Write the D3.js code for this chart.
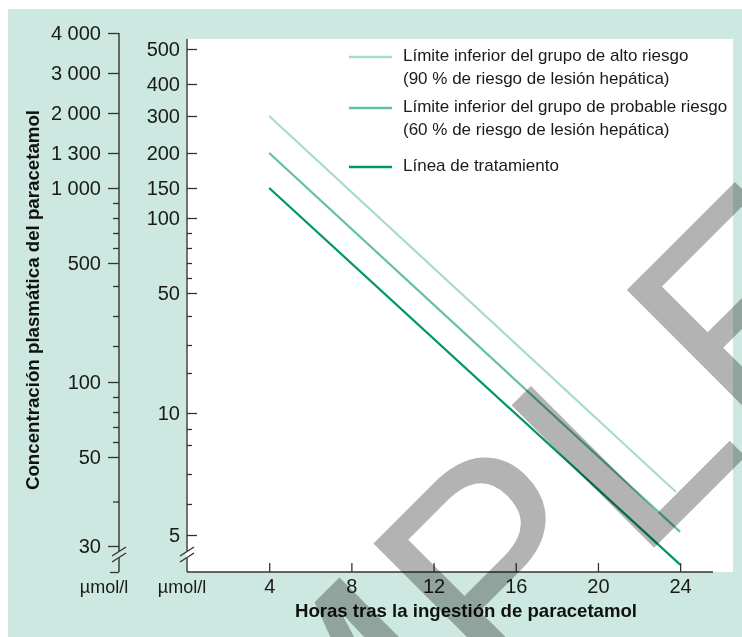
<!DOCTYPE html>
<html>
<head>
<meta charset="utf-8">
<script src="https://cdn.jsdelivr.net/npm/d3@7"></script>
<style>
  body { margin: 0; background: #fff; }
  svg { display: block; font-family: "Liberation Sans", Arial, sans-serif; }
  .axis text { font-size: 20px; fill: #1a1a1a; font-family: "Liberation Sans", Arial, sans-serif; }
  .axis line { stroke: #333; stroke-width: 1.3; }
  .axis path { display: none; }
</style>
</head>
<body>
<svg width="742" height="637"></svg>
<script>
// hours after ingestion, concentration in mg/l (inner axis) and µmol/l (outer axis)
const hourTicks = [4, 8, 12, 16, 20, 24];
const mgTicks = [500, 400, 300, 200, 150, 100, 50, 10, 5];
const mgMinor = [90, 80, 70, 60, 40, 30, 20, 9, 8, 7, 6];
const umolTicks = [4000, 3000, 2000, 1300, 1000, 500, 100, 50, 30];
const umolMinor = [900, 800, 700, 600, 400, 300, 200, 90, 80, 70, 60, 40];

const seriesLabels = [
  ["Límite inferior del grupo de alto riesgo", "(90 % de riesgo de lesión hepática)"],
  ["Límite inferior del grupo de probable riesgo", "(60 % de riesgo de lesión hepática)"],
  ["Línea de tratamiento"]
];
const seriesHours = [[4, 23.8], [4, 24], [4, 24]];
const seriesMg = [[300, 6.4], [200, 5.1], [150, 4.2]];
const seriesColors = ["#a9dcc8", "#63c1a0", "#00956a"];

// the printed axes are spaced by hand, so both y scales are piecewise
const mgStops = [500, 400, 300, 200, 150, 100, 50, 40, 30, 20, 10, 9, 8, 7, 6, 5, 4];
const mgStopY = [49, 84, 116, 153, 188, 218, 293, 316, 345, 373, 413, 429, 445, 474, 504, 535, 572];
const umolStops = [4000, 3000, 2000, 1300, 1000, 500, 400, 300, 200, 100, 50, 30, 20];
const umolStopY = [33, 73, 113, 153, 188, 263, 286, 316, 346, 382, 457, 546, 572];

const svg = d3.select("svg");
const outerX = 119, innerX = 187, baseY = 572;

const x = d3.scaleLinear().domain([0, 25.6]).range([innerX, 713]);
const yMg = d3.scaleLinear().domain(mgStops).range(mgStopY);
const yUmol = d3.scaleLinear().domain(umolStops).range(umolStopY);

const fmt = d3.formatLocale({ decimal: ",", thousands: " ", grouping: [3], currency: ["", ""] }).format(",");

// backgrounds
svg.append("rect").attr("x", 8).attr("y", 9).attr("width", 734).attr("height", 628).attr("fill", "#cde8e0");
svg.append("rect").attr("x", 186).attr("y", 39).attr("width", 547).attr("height", baseY - 39).attr("fill", "#fff");

// outer axis (µmol/l)
const gOut = svg.append("g").attr("class", "axis").attr("transform", `translate(${outerX},0)`);
gOut.call(d3.axisLeft(yUmol).tickValues(umolTicks).tickSize(11).tickPadding(7).tickFormat(fmt));
gOut.append("g").call(d3.axisLeft(yUmol).tickValues(umolMinor).tickSize(6).tickFormat(""));
gOut.append("g").call(d3.axisLeft(yUmol).tickValues([20]).tickSize(9).tickFormat(""));

// inner axis (ticks into the plot)
const gIn = svg.append("g").attr("class", "axis").attr("transform", `translate(${innerX},0)`);
gIn.call(d3.axisLeft(yMg).tickValues(mgTicks).tickSizeInner(-10).tickSizeOuter(0).tickPadding(7));
gIn.append("g").call(d3.axisLeft(yMg).tickValues(mgMinor).tickSizeInner(-5).tickSizeOuter(0).tickFormat(""));

// axis spines with the break marks
function spine(xp, top) {
  const g = svg.append("g").attr("stroke", "#333").attr("stroke-width", 1.4).attr("fill", "none");
  g.append("line").attr("x1", xp).attr("x2", xp).attr("y1", top).attr("y2", 551);
  g.append("line").attr("x1", xp).attr("x2", xp).attr("y1", 558).attr("y2", baseY);
  [552, 558].forEach(b => {
    g.append("line").attr("x1", xp - 7).attr("y1", b + 4).attr("x2", xp + 7).attr("y2", b - 5);
  });
}
spine(outerX, 33);
spine(innerX, 39);

// x axis
const gX = svg.append("g").attr("class", "axis").attr("transform", `translate(0,${baseY})`);
gX.call(d3.axisBottom(x).tickValues(hourTicks).tickSizeInner(-9).tickSizeOuter(0).tickPadding(7));
gX.append("line").attr("x1", innerX).attr("x2", 713).attr("stroke", "#333").attr("stroke-width", 1.4);

// unit labels
svg.selectAll(".unit").data([outerX - 15, innerX - 5]).enter().append("text")
  .attr("x", d => d).attr("y", 593).attr("text-anchor", "middle")
  .attr("font-size", 18).attr("fill", "#1a1a1a").text("µmol/l");

// axis titles
svg.append("text").attr("x", 466).attr("y", 617).attr("text-anchor", "middle")
  .attr("font-size", 18.6).attr("font-weight", "bold").attr("fill", "#111")
  .text("Horas tras la ingestión de paracetamol");
svg.append("text").attr("transform", "translate(39,300) rotate(-90)").attr("text-anchor", "middle")
  .attr("font-size", 18.7).attr("font-weight", "bold").attr("fill", "#111")
  .text("Concentración plasmática del paracetamol");

// nomogram lines
const line = d3.line().x(d => x(d[0])).y(d => yMg(d[1]));
seriesMg.forEach((vals, i) => {
  const pts = vals.map((v, j) => [seriesHours[i][j], v]);
  svg.append("path").attr("d", line(pts)).attr("fill", "none")
    .attr("stroke", seriesColors[i]).attr("stroke-width", 2.2);
});

// legend
const legendTop = [57, 108, 167];
const leg = svg.append("g").attr("font-size", 17).attr("fill", "#1a1a1a");
seriesLabels.forEach((rows, i) => {
  leg.append("line").attr("x1", 349).attr("x2", 392)
    .attr("y1", legendTop[i]).attr("y2", legendTop[i])
    .attr("stroke", seriesColors[i]).attr("stroke-width", 2.6);
  rows.forEach((r, k) => {
    leg.append("text").attr("x", 403).attr("y", legendTop[i] + 4 + k * 23).text(r);
  });
});

// watermark
svg.append("text")
  .attr("transform", "translate(50,1152) rotate(-45)")
  .attr("font-size", 293).attr("fill", "#b3b3b3")
  .style("mix-blend-mode", "multiply")
  .text("SAMPLE");
</script>
</body>
</html>
